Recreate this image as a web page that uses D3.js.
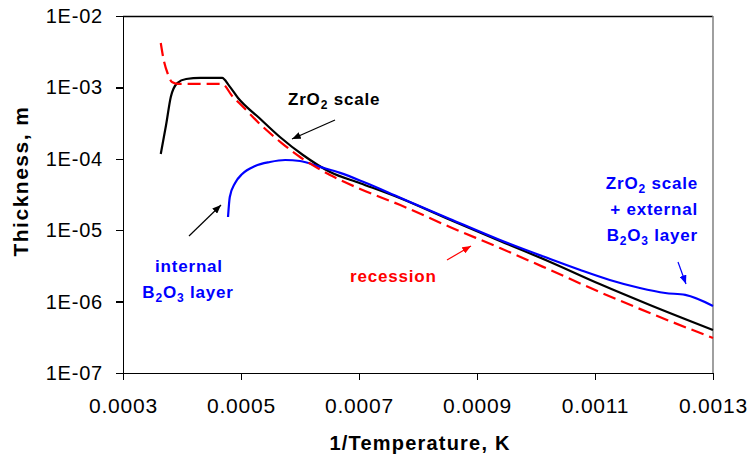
<!DOCTYPE html>
<meta charset="utf-8">
<style>
body { margin: 0; background: #fff; }
svg { font-family: "Liberation Sans", Arial, sans-serif; }
.axis path, .axis line { stroke: #000; stroke-width: 1.3px; shape-rendering: crispEdges; }
.axis text { fill: #000; letter-spacing: 0.8px; }
</style>
<svg width="749" height="460"></svg>
<script src="https://cdn.jsdelivr.net/npm/d3@7"></script>
<script>
// 1/T values and thickness (m)
var scaleX = [0.000364, 0.000373, 0.000381, 0.000392, 0.000407, 0.000431, 0.000468, 0.000480, 0.000495, 0.000531,
              0.000566, 0.000605, 0.000651, 0.000702, 0.000770, 0.000854, 0.000939, 0.001024, 0.001108, 0.001193, 0.0013];
var scaleY = [1.17e-4, 2.97e-4, 7.34e-4, 1.15e-3, 1.31e-3, 1.36e-3, 1.36e-3, 1.05e-3, 7.11e-4, 3.73e-4,
              2.02e-4, 1.13e-4, 6.53e-5, 4.55e-5, 2.80e-5, 1.40e-5, 7.06e-6, 3.59e-6, 1.76e-6, 8.96e-7, 4.00e-7];

var recessionX = [0.000364, 0.000369, 0.000376, 0.000383, 0.000393, 0.000468, 0.000485, 0.000502, 0.000532, 0.000569,
                  0.000600, 0.000651, 0.000702, 0.000770, 0.000854, 0.000939, 0.001024, 0.001108, 0.001193, 0.0013];
var recessionY = [4.19e-3, 2.42e-3, 1.54e-3, 1.19e-3, 1.12e-3, 1.12e-3, 7.58e-4, 5.49e-4, 3.07e-4, 1.66e-4,
                  1.06e-4, 5.93e-5, 3.78e-5, 2.25e-5, 1.11e-5, 5.63e-6, 2.77e-6, 1.36e-6, 6.92e-7, 3.09e-7];

var boriaX = [0.000478, 0.000481, 0.000490, 0.000502, 0.000524, 0.000549, 0.000575, 0.000600, 0.000634, 0.000668, 0.000710,
              0.000770, 0.000854, 0.000939, 0.001024, 0.001075, 0.001125, 0.001176, 0.001219, 0.001253, 0.0013];
var boriaY = [1.53e-5, 2.92e-5, 4.58e-5, 6.12e-5, 7.93e-5, 9.02e-5, 9.62e-5, 9.31e-5, 7.70e-5, 6.35e-5, 4.65e-5,
              2.85e-5, 1.44e-5, 7.29e-6, 3.95e-6, 2.77e-6, 2.01e-6, 1.55e-6, 1.32e-6, 1.24e-6, 8.67e-7];

var xTicks = [0.0003, 0.0005, 0.0007, 0.0009, 0.0011, 0.0013];
var yTicks = [1e-2, 1e-3, 1e-4, 1e-5, 1e-6, 1e-7];

var svg = d3.select("svg"),
    margin = {top: 16, right: 36, bottom: 87, left: 123},
    width = +svg.attr("width") - margin.left - margin.right,
    height = +svg.attr("height") - margin.top - margin.bottom,
    g = svg.append("g").attr("transform", "translate(" + margin.left + "," + margin.top + ")");

var x = d3.scaleLinear().domain([0.0003, 0.0013]).range([0, width]);
var y = d3.scaleLog().domain([1e-7, 1e-2]).range([height, 0]);

// frame: top black, right grey
g.append("line").attr("x1", 0).attr("x2", width).attr("y1", 0.5).attr("y2", 0.5)
    .attr("stroke", "#000").attr("stroke-width", 1.3);
g.append("line").attr("x1", width).attr("x2", width).attr("y1", 0).attr("y2", height)
    .attr("stroke", "#888").attr("stroke-width", 1.6);

g.append("g")
    .attr("class", "axis")
    .attr("transform", "translate(0," + height + ")")
    .call(d3.axisBottom(x).tickValues(xTicks).tickSize(7).tickSizeOuter(0).tickPadding(18)
      .tickFormat(d3.format(".4f")))
    .call(function(a) { a.selectAll("text").attr("font-size", 21).attr("font-family", null); });

g.append("g")
    .attr("class", "axis")
    .call(d3.axisLeft(y).tickValues(yTicks).tickSize(7).tickSizeOuter(0).tickPadding(13)
      .tickFormat(function(d) { return "1E-0" + Math.round(-Math.log10(d)); }))
    .call(function(a) { a.selectAll("text").attr("font-size", 20).attr("font-family", null); });

var line = d3.line()
    .x(function(d) { return x(d[0]); })
    .y(function(d) { return y(d[1]); })
    .curve(d3.curveMonotoneX);

function pairs(xs, ys) { return xs.map(function(v, i) { return [v, ys[i]]; }); }

g.append("path").datum(pairs(scaleX, scaleY))
    .attr("fill", "none").attr("stroke", "#000").attr("stroke-width", 2.2).attr("d", line);
g.append("path").datum(pairs(boriaX, boriaY))
    .attr("fill", "none").attr("stroke", "#0000ff").attr("stroke-width", 2.2).attr("d", line);
g.append("path").datum(pairs(recessionX, recessionY))
    .attr("fill", "none").attr("stroke", "#ff0000").attr("stroke-width", 2.2)
    .attr("stroke-dasharray", "13,6").attr("d", line);

// axis titles
svg.append("text")
    .attr("x", margin.left + width / 2 + 2)
    .attr("y", 450)
    .attr("text-anchor", "middle")
    .attr("font-weight", "bold")
    .attr("font-size", 20)
    .style("letter-spacing", "1.2px")
    .text("1/Temperature, K");

svg.append("text")
    .attr("transform", "translate(28," + 181 + ") rotate(-90)")
    .attr("text-anchor", "middle")
    .attr("font-weight", "bold")
    .attr("font-size", 21)
    .style("letter-spacing", "1.5px")
    .text("Thickness, m");

// arrow heads
var defs = svg.append("defs");
[["arrBlack", "#000"], ["arrRed", "#ff0000"], ["arrBlue", "#0000ff"]].forEach(function(m) {
  defs.append("marker")
      .attr("id", m[0])
      .attr("viewBox", "0 0 10 8")
      .attr("refX", 10).attr("refY", 4)
      .attr("markerWidth", 9).attr("markerHeight", 7)
      .attr("markerUnits", "userSpaceOnUse")
      .attr("orient", "auto")
    .append("path").attr("d", "M0,0L10,4L0,8z").attr("fill", m[1]);
});

function arrow(x1, y1, x2, y2, color, id) {
  svg.append("line").attr("x1", x1).attr("y1", y1).attr("x2", x2).attr("y2", y2)
      .attr("stroke", color).attr("stroke-width", 1.2).attr("marker-end", "url(#" + id + ")");
}

// label with subscripts: parts = [[text, isSub], ...]
function label(px, py, parts, color, anchor) {
  var t = svg.append("text")
      .attr("x", px).attr("y", py)
      .attr("fill", color)
      .attr("font-weight", "bold")
      .attr("font-size", 17)
      .attr("text-anchor", anchor || "start")
      .style("letter-spacing", "0.8px");
  var shifted = false;
  parts.forEach(function(p) {
    var s = t.append("tspan").text(p[0]);
    if (p[1] && !shifted) { s.attr("dy", 4).attr("font-size", 12); shifted = true; }
    else if (p[1]) { s.attr("font-size", 12); }
    else if (shifted) { s.attr("dy", -4); shifted = false; }
  });
}

label(288, 105, [["ZrO"], ["2", true], [" scale"]], "#000");
arrow(335, 120, 292, 139, "#000", "arrBlack");

label(189, 272, [["internal"]], "#0000ff", "middle");
label(188, 298, [["B"], ["2", true], ["O"], ["3", true], [" layer"]], "#0000ff", "middle");
arrow(189, 236, 221, 205, "#000", "arrBlack");

label(350, 282, [["recession"]], "#ff0000");
arrow(447, 260, 471, 246, "#ff0000", "arrRed");

label(698, 189, [["ZrO"], ["2", true], [" scale"]], "#0000ff", "end");
label(698, 215, [["+ external"]], "#0000ff", "end");
label(698, 241, [["B"], ["2", true], ["O"], ["3", true], [" layer"]], "#0000ff", "end");
arrow(678, 262, 686, 284, "#0000ff", "arrBlue");
</script>
